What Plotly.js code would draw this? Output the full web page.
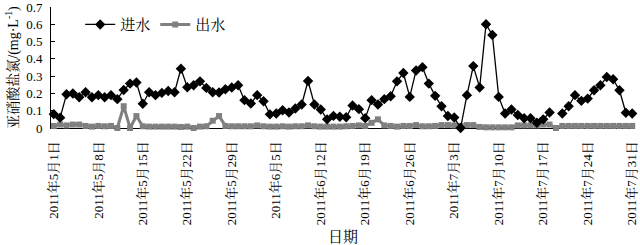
<!DOCTYPE html>
<html>
<head>
<meta charset="utf-8">
<script src="https://cdn.plot.ly/plotly-3.0.1.min.js"></script>
<style>
  html, body { margin: 0; padding: 0; background: #fff; }
  #chart { width: 640px; height: 245px; }
</style>
</head>
<body>
<div id="chart"></div>
<script>
// Daily sampling period: 2011-05-01 .. 2011-07-31
const startDate = '2011-05-01';
const dayCount = 92;

// Nitrite nitrogen, influent (mg/L); null = no sample that day
const influent = [
  0.08, 0.06, 0.195, 0.2, 0.178, 0.207, 0.178, 0.19, 0.178, 0.19,
  0.167, 0.22, 0.257, 0.263, 0.14, 0.207, 0.19, 0.203, 0.214, 0.207,
  0.343, 0.236, 0.247, 0.27, 0.232, 0.207, 0.205, 0.224, 0.234, 0.247,
  0.161, 0.142, 0.19, 0.155, 0.079, 0.084, 0.103, 0.09, 0.113, 0.136,
  0.272, 0.136, 0.107, 0.05, 0.07, 0.065, 0.062, 0.13, 0.109, 0.057,
  0.161, 0.136, 0.167, 0.184, 0.27, 0.318, 0.18, 0.333, 0.352, 0.257,
  0.186, 0.126, 0.069, 0.061, 0.0, 0.19, 0.358, 0.234, 0.6, 0.538,
  0.18, 0.084, 0.107, 0.075, 0.056, 0.056, 0.03, 0.05, 0.09, null,
  0.084, 0.126, 0.19, 0.157, 0.17, 0.218, 0.247, 0.295, 0.282, 0.218,
  0.088, 0.084
];

// Nitrite nitrogen, effluent (mg/L)
const effluent = [
  0.012, 0.02, 0.015, 0.02, 0.02, 0.012, 0.008, 0.012, 0.01, 0.012,
  0.0, 0.126, 0.0, 0.069, 0.01, 0.008, 0.008, 0.008, 0.008, 0.008,
  0.006, 0.008, 0.0, 0.008, 0.01, 0.042, 0.069, 0.012, 0.01, 0.01,
  0.01, 0.01, 0.015, 0.01, 0.008, 0.008, 0.01, 0.008, 0.01, 0.01,
  0.015, 0.01, 0.008, 0.008, 0.008, 0.008, 0.01, 0.012, 0.015, 0.012,
  0.03, 0.05, 0.015, 0.012, 0.008, 0.012, 0.012, 0.017, 0.01, 0.01,
  0.012, 0.017, 0.017, 0.015, 0.012, 0.017, 0.017, 0.006, 0.004, 0.004,
  0.004, 0.004, 0.004, 0.015, 0.015, 0.015, 0.015, 0.02, 0.02, 0.0,
  0.012, 0.012, 0.012, 0.012, 0.012, 0.012, 0.012, 0.012, 0.012, 0.012,
  0.012, 0.012
];

// Weekly tick positions and their labels
const tickDates = [
  '2011-05-01', '2011-05-08', '2011-05-15', '2011-05-22', '2011-05-29',
  '2011-06-05', '2011-06-12', '2011-06-19', '2011-06-26', '2011-07-03',
  '2011-07-10', '2011-07-17', '2011-07-24', '2011-07-31'
];
const tickLabels = [
  '2011年5月1日', '2011年5月8日', '2011年5月15日', '2011年5月22日', '2011年5月29日',
  '2011年6月5日', '2011年6月12日', '2011年6月19日', '2011年6月26日', '2011年7月3日',
  '2011年7月10日', '2011年7月17日', '2011年7月24日', '2011年7月31日'
];

// y-axis ticks
const yTicks = [0, 0.1, 0.2, 0.3, 0.4, 0.5, 0.6, 0.7];
const yTickLabels = ['0', '0.1', '0.2', '0.3', '0.4', '0.5', '0.6', '0.7'];

const seriesNames = ['进水', '出水'];

// one date string per sample day
const DAY = 86400000;
const t0 = Date.parse(startDate + 'T00:00:00Z');
const dates = [];
for (let i = 0; i < dayCount; i++) {
  dates.push(new Date(t0 + i * DAY).toISOString().slice(0, 10));
}
const fmt = ms => new Date(ms).toISOString().replace('T', ' ').slice(0, 19);
const xRange = [fmt(t0 - 0.44 * DAY), fmt(t0 + (dayCount - 1 + 0.44) * DAY)];

const FONT = 'Liberation Serif, "Noto Serif CJK SC", "Noto Sans CJK SC", serif';

const traces = [
  {
    x: dates, y: effluent, name: seriesNames[1], type: 'scatter', mode: 'lines+markers',
    line: { color: '#808080', width: 3 },
    marker: { symbol: 'square', size: 6, color: '#808080' },
    connectgaps: false, cliponaxis: false, legendrank: 2
  },
  {
    x: dates, y: influent, name: seriesNames[0], type: 'scatter', mode: 'lines+markers',
    line: { color: '#000000', width: 1.3 },
    marker: { symbol: 'diamond', size: 8, color: '#000000' },
    connectgaps: false, cliponaxis: false, legendrank: 1
  }
];

const layout = {
  width: 640, height: 245,
  margin: { l: 51, r: 5, t: 7, b: 117 },
  paper_bgcolor: '#fff', plot_bgcolor: '#fff',
  font: { family: FONT, size: 13, color: '#000' },
  showlegend: true,
  legend: {
    orientation: 'h', x: 0.05, y: 0.99, xanchor: 'left', yanchor: 'top',
    font: { family: FONT, size: 15, color: '#000' },
    bgcolor: 'rgba(0,0,0,0)', itemwidth: 30, tracegroupgap: 0
  },
  xaxis: {
    type: 'date', range: xRange,
    tickmode: 'array', tickvals: tickDates, ticktext: tickLabels,
    tickangle: -90, tickfont: { family: FONT, size: 13, color: '#000' },
    ticklabelstandoff: 7, ticklabeloverflow: 'allow',
    showgrid: false, zeroline: false,
    showline: true, linecolor: '#000', linewidth: 1, ticks: '',
    layer: 'below traces',
    title: { text: '日期', font: { family: FONT, size: 15, color: '#000' }, standoff: 8 }
  },
  yaxis: {
    range: [0, 0.7],
    tickmode: 'array', tickvals: yTicks, ticktext: yTickLabels,
    showgrid: false, zeroline: false,
    showline: true, linecolor: '#000', linewidth: 1,
    ticks: 'inside', ticklen: 4, tickcolor: '#000',
    ticklabelstandoff: 5, ticklabeloverflow: 'allow',
    tickfont: { family: FONT, size: 13, color: '#000' },
    title: { text: '亚硝酸盐氮/(mg·L<sup>-1</sup>)', font: { family: FONT, size: 14, color: '#000' }, standoff: 4 }
  }
};

Plotly.newPlot('chart', traces, layout, { displayModeBar: false, staticPlot: true });
</script>
</body>
</html>
